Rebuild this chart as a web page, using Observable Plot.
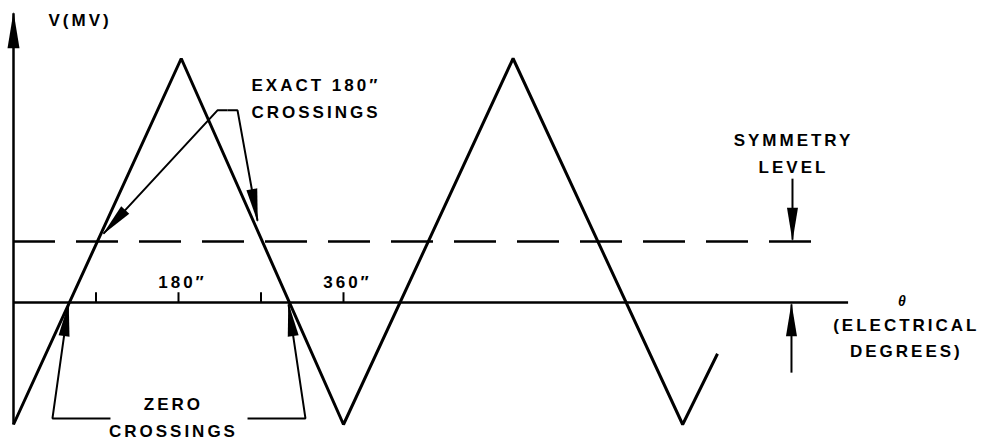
<!DOCTYPE html>
<html><head><meta charset="utf-8">
<script src="https://cdn.jsdelivr.net/npm/d3@7"></script>
<script src="https://cdn.jsdelivr.net/npm/@observablehq/plot@0.6"></script>
<style>body{margin:0;background:#fff}</style>
</head><body><div id="chart"></div>
<script>
// Triangle wave vertices (electrical degrees, voltage in arbitrary units; zero line = 0)
const waveDegrees = [0, 183, 360, 545, 730, 768];
const waveVoltage = [-2, 4, -2, 4, -2, -0.84];
// Axis ticks
const tickDegrees = [90, 180, 270, 360];
const tickLabels = ["", "180″", "", "360″"];
// Reference levels
const zeroLevel = 0;
const symmetryLevel = 1;
const axisEndDegrees = 911;
const dashedEndDegrees = 877;

// Annotation arrows (polylines, arrowhead at last point)
const axisArrow = [
  {id: "v", x: 0, y: -2},
  {id: "v", x: 0, y: 4.74}
];
const calloutArrows = [
  ["zeroL", [[105.8, -1.9], [42.5, -1.9], [60, -0.03]]],
  ["zeroR", [[255.3, -1.9], [318.5, -1.9], [300, -0.03]]],
  ["exactL", [[233.5, 3.15], [222.5, 3.15], [98.2, 1.13]]],
  ["exactR", [[233.5, 3.15], [244.4, 3.15], [266.2, 1.34]]],
  ["symDown", [[849.8, 2.03], [849.8, 1.03]]],
  ["symUp", [[848.7, -1.15], [848.7, -0.03]]]
];
// Annotation texts (left-aligned)
const startTexts = ["V(MV)", "EXACT 180″", "CROSSINGS"];
const startX = [38.2, 259.6, 259.6];
const startY = [4.54, 3.46, 3.02];
// Annotation texts (centred)
const middleTexts = ["SYMMETRY", "LEVEL", "(ELECTRICAL", "DEGREES)", "ZERO", "CROSSINGS"];
const middleX = [850.9, 850.9, 974, 974, 174.5, 174.5];
const middleY = [2.57, 2.13, -0.46, -0.90, -1.77, -2.21];

const wave = waveDegrees.map((d, i) => ({deg: d, v: waveVoltage[i]}));
const ticks = tickDegrees.map((d, i) => ({deg: d, label: tickLabels[i]}));
const callouts = calloutArrows.flatMap(([id, pts]) => pts.map(([x, y]) => ({id, x, y})));
const startLabels = startTexts.map((t, i) => ({text: t, x: startX[i], y: startY[i]}));
const middleLabels = middleTexts.map((t, i) => ({text: t, x: middleX[i], y: middleY[i]}));

function headMarker(len, half) {
  return (color) => {
    const ns = "http://www.w3.org/2000/svg";
    const m = document.createElementNS(ns, "marker");
    m.setAttribute("viewBox", `${-len - 2} ${-half - 1} ${len + 4} ${2 * half + 2}`);
    m.setAttribute("markerWidth", len + 4);
    m.setAttribute("markerHeight", 2 * half + 2);
    m.setAttribute("refX", 0);
    m.setAttribute("refY", 0);
    m.setAttribute("markerUnits", "userSpaceOnUse");
    m.setAttribute("orient", "auto");
    const p = document.createElementNS(ns, "path");
    p.setAttribute("d", `M1.5,0L${-len},${-half}L${-len},${half}Z`);
    p.setAttribute("fill", color);
    p.setAttribute("stroke", "none");
    m.appendChild(p);
    return m;
  };
}

const textStyle = {lineAnchor: "bottom", fontSize: 17, fontWeight: "bold", fill: "#000"};

const plot = Plot.plot({
  width: 982,
  height: 441,
  margin: 0,
  x: {domain: [0, 360], range: [13, 343], axis: null},
  y: {domain: [0, 4], range: [302, 58], axis: null},
  style: {fontFamily: "'Liberation Sans', Arial, sans-serif", background: "#fff", color: "#000", letterSpacing: "3px"},
  marks: [
    Plot.ruleY([zeroLevel], {x1: 0, x2: axisEndDegrees, stroke: "#000", strokeWidth: 2.5}),
    Plot.ruleY([symmetryLevel], {x1: 0, x2: dashedEndDegrees, stroke: "#000", strokeWidth: 2.5, strokeDasharray: "42,21"}),
    Plot.ruleX(ticks, {x: "deg", y1: 0, y2: 0.16, stroke: "#000", strokeWidth: 2}),
    Plot.text(ticks, {x: "deg", y: 0, text: "label", dy: -15, dx: 4, ...textStyle}),
    Plot.line(wave, {x: "deg", y: "v", stroke: "#000", strokeWidth: 3, strokeLinejoin: "miter", strokeLinecap: "butt"}),
    Plot.line(axisArrow, {x: "x", y: "y", z: "id", stroke: "#000", strokeWidth: 2.5, strokeLinecap: "butt", markerEnd: headMarker(35, 6)}),
    Plot.line(callouts, {x: "x", y: "y", z: "id", stroke: "#000", strokeWidth: 2, strokeLinecap: "butt", strokeLinejoin: "miter", markerEnd: headMarker(32, 5.5)}),
    Plot.text(startLabels, {x: "x", y: "y", text: "text", textAnchor: "start", ...textStyle}),
    Plot.text(middleLabels, {x: "x", y: "y", text: "text", textAnchor: "middle", ...textStyle}),
    Plot.text(["θ"], {x: 970.9, y: -0.05, text: (d) => d, lineAnchor: "bottom", fontSize: 14, fontStyle: "italic", fontWeight: "bold", fill: "#000"})
  ]
});
document.getElementById("chart").appendChild(plot);
</script>
</body></html>
